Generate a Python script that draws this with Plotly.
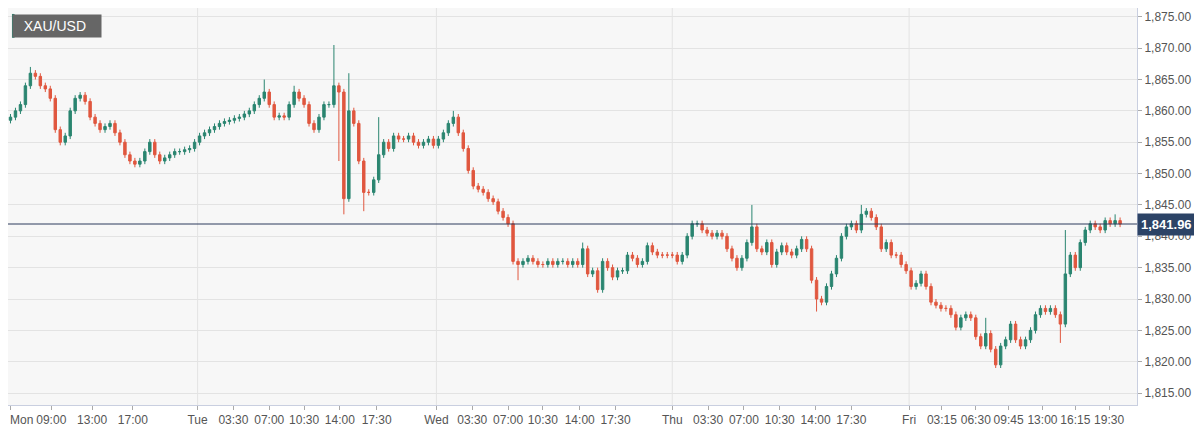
import plotly.graph_objects as go

closes_mon = [1859,1860,1861,1864,1866,1865.5,1864,1863.5,1862,1857,1855,1856,1860,1862,1862.5,1861.5,1859,1858,1857,1857.5,
              1858,1856.5,1855,1853,1852,1851.5,1852,1853.5,1855,1853,1852,1852.5,1853,1853.5,1853.5,1853.8,1854,1855]
closes_tue = [1856,1856.5,1857,1857.5,1858,1858.3,1858.5,1858.8,1859,1859.5,1860,1861,1862,1863,1861,1859,1859.2,1859,1861,1863,
              1862,1861,1858,1857,1859,1861,1861,1864,1863,1846,1860,1858,1852,1847,1847,1849,1853,1855,1854,1856,
              1855.5,1855.5,1856,1855,1854.5,1855,1855.5,1854.5]
closes_wed = [1855.5,1856.5,1858,1859,1856.5,1854,1850.5,1848,1847.5,1847,1846,1845.5,1844,1843,1842,1836,1835.5,1836,1836.5,1836,
              1835.5,1835.5,1836,1835.5,1836,1836,1835.5,1836,1835.5,1838,1834,1834.5,1831.5,1836,1835,1833.5,1834.5,1834.5,1837,1836.5,
              1835.5,1836,1838.5,1837.5,1837,1837,1837,1837]
closes_thu = [1836,1837,1840,1842,1842,1841,1840.5,1840,1840.5,1840,1838,1836.5,1835,1836.5,1839,1841.5,1838,1837.5,1839,1835.5,
              1837.5,1838.5,1837.5,1837,1838,1839.5,1838,1833,1830,1829.5,1832,1834,1836.5,1840,1841.5,1842,1841,1843.5,1844,1843,
              1841.5,1838,1839,1837,1837,1835.5,1834.5]
closes_fri = [1832,1832.5,1834,1832,1829.5,1829,1828.5,1828.5,1827.5,1825.5,1827,1827.5,1827,1824,1822.5,1824.5,1822,1819.5,1822.5,1823.5,
              1826,1823.5,1822.5,1823.5,1825,1827.5,1828.5,1828,1828.5,1827.5,1826,1834,1837,1835,1839,1841,1842,1841.5,1841,1842.5,
              1842,1842.5,1841.96]
first_open = 1858.5

# notable wick extremes: candle index -> price
spike_highs = {4: 1867, 14: 1863, 51: 1865, 57: 1864, 65: 1870.5, 68: 1866, 74: 1859, 89: 1860,
               115: 1839, 149: 1845, 171: 1845, 196: 1827, 212: 1841, 222: 1843.5}
spike_lows = {66: 1852, 67: 1843.5, 71: 1844, 102: 1833, 118: 1831, 162: 1828, 198: 1819, 211: 1823}
wick = 0.5

tick_pos = [0, 8.2, 16.4, 24.6, 37.6, 44.8, 52, 59, 66.2, 73.6, 85.6, 92.8, 100, 107, 114.4, 121.6,
            133, 140.2, 147.4, 154.6, 161.8, 169, 180.6, 187.2, 194, 200.6, 207.4, 214, 220.8]
tick_text = ["", "09:00", "13:00", "17:00", "Tue", "03:30", "07:00", "10:30", "14:00", "17:30",
             "Wed", "03:30", "07:00", "10:30", "14:00", "17:30", "Thu", "03:30", "07:00", "10:30", "14:00", "17:30",
             "Fri", "03:15", "06:30", "09:45", "13:00", "16:15", "19:30"]
first_label = "Mon"
day_pos = [37.6, 85.6, 133, 180.6]
last_price = 1841.96

closes = closes_mon + closes_tue + closes_wed + closes_thu + closes_fri
opens = [first_open] + closes[:-1]
highs, lows = [], []
for i, (o, c) in enumerate(zip(opens, closes)):
    highs.append(spike_highs.get(i, max(o, c) + wick))
    lows.append(spike_lows.get(i, min(o, c) - wick))
xs = list(range(len(closes)))

fig = go.Figure(go.Candlestick(
    x=xs, open=opens, high=highs, low=lows, close=closes,
    increasing=dict(line=dict(color="#2a8570", width=1), fillcolor="#2a8570"),
    decreasing=dict(line=dict(color="#e0573f", width=1), fillcolor="#e0573f"),
    whiskerwidth=0, showlegend=False, hoverinfo="skip"))

for d in day_pos:
    fig.add_shape(type="line", xref="x", yref="paper", x0=d, x1=d, y0=0, y1=1,
                  line=dict(color="#e3e3e3", width=1), layer="below")
fig.add_shape(type="line", xref="paper", yref="y", x0=0, x1=1, y0=last_price, y1=last_price,
              line=dict(color="#2c3a5c", width=1))
fig.add_annotation(xref="paper", yref="y", x=1.0, y=last_price, xanchor="left",
                   text="<b>1,841.96</b>", showarrow=False, bgcolor="#2c4366",
                   font=dict(color="white", size=13, family="Arial"), borderpad=3)
fig.add_annotation(xref="paper", yref="paper", x=0.0035, y=0.985, xanchor="left", yanchor="top",
                   text="&nbsp;&nbsp;XAU/USD&nbsp;&nbsp;&nbsp;", showarrow=False, bgcolor="#666666",
                   font=dict(color="white", size=14, family="Arial"), borderpad=3)
fig.add_shape(type="rect", xref="paper", yref="paper", x0=0.0035, x1=0.0058, y0=0.925, y1=0.985,
              fillcolor="#2a8570", line=dict(width=0))
fig.add_annotation(xref="paper", yref="paper", x=0, y=0, xanchor="left", yanchor="top", yshift=-6,
                   text=first_label, showarrow=False, font=dict(size=12, color="#555555"))

fig.update_layout(
    width=1202, height=431, margin=dict(l=0, r=73, t=0, b=34),
    paper_bgcolor="white", plot_bgcolor="#f7f7f7",
    font=dict(family="Arial", size=12, color="#555555"),
    xaxis=dict(range=[-0.5, 226.4], tickvals=tick_pos, ticktext=tick_text, showgrid=False,
               rangeslider=dict(visible=False), ticks="outside", ticklen=4, tickcolor="#aaaaaa",
               showline=True, linecolor="#c9cfe0", mirror=True, zeroline=False,
               tickfont=dict(size=12, color="#555555")),
    yaxis=dict(side="right", range=[1813.1, 1876.4], dtick=5, tickformat=",.2f",
               gridcolor="#e3e3e3", ticks="outside", ticklen=4, tickcolor="#aaaaaa",
               showline=True, linecolor="#c9cfe0", mirror=True, zeroline=False,
               tickfont=dict(size=12, color="#555555")),
)
fig.write_html("out.html")
